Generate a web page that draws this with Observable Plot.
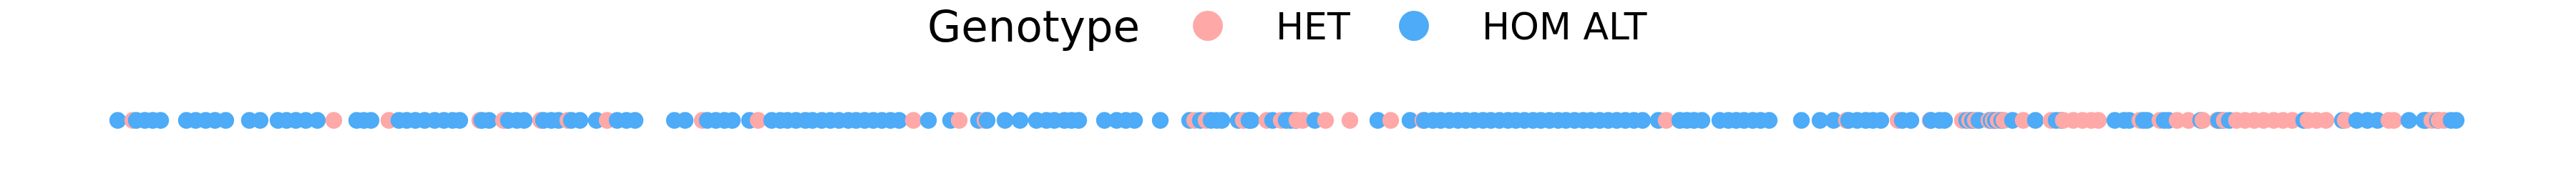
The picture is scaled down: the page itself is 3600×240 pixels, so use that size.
<!DOCTYPE html>
<html>
<head>
<meta charset="utf-8">
<script src="https://cdn.jsdelivr.net/npm/d3@7"></script>
<script src="https://cdn.jsdelivr.net/npm/@observablehq/plot@0.6"></script>
<style>
  html, body { margin: 0; padding: 0; background: #fff; }
  #legend { display: block; }
  svg { display: block; }
</style>
</head>
<body>
<div id="legend"></div>
<div id="chart"></div>
<script>
const legendTitle = "Genotype";
const categories = ["HET", "HOM ALT"];
const colors = ["#ffa8a8", "#4dabf7"];

// variant positions (arbitrary units along the sequence)
const hetPositions = [
  185, 466, 543, 670, 703, 707, 755, 793, 848, 981, 1059, 1276, 1340, 1376,
  1669, 1685, 1737, 1770, 1790, 1812, 1820, 1852, 1886, 1943, 1988, 2328,
  2580, 2652, 2697, 2742, 2752, 2760, 2779, 2785, 2792, 2800, 2827,
  2866, 2883, 2897, 2910, 2922, 2932, 2990, 3018, 3042, 3058, 3078, 3098, 3108, 3125,
  3137, 3150, 3163, 3177, 3190, 3203, 3225, 3237, 3250, 3277, 3338, 3345, 3398, 3408, 3415
];
const homAltPositions = [
  164, 190, 202, 213, 224, 260, 273, 287, 300, 315, 348, 363, 388, 400, 413, 427,
  443, 498, 508, 518, 557, 568, 580, 593, 607, 620, 632, 642, 673, 683, 710, 722, 732,
  759, 770, 780, 798, 810, 833, 862, 875, 887, 942, 957, 988, 1000, 1012, 1023,
  1047, 1078, 1090, 1100, 1112, 1125, 1135, 1148, 1160, 1172, 1185, 1196, 1208, 1220, 1232, 1244, 1256,
  1297, 1328, 1367, 1379, 1404, 1425, 1448, 1462, 1473, 1487, 1497, 1507, 1543, 1560, 1573, 1585, 1621,
  1662, 1677, 1692, 1700, 1707, 1730, 1745, 1748, 1778, 1797, 1803, 1810, 1837, 1925,
  1970, 1990, 2002, 2013, 2025, 2037, 2048, 2060, 2072, 2083, 2095, 2107, 2118, 2130, 2142, 2153,
  2165, 2177, 2188, 2200, 2212, 2223, 2235, 2247, 2259, 2271, 2283, 2295, 2317, 2347, 2357, 2367, 2378,
  2403, 2415, 2426, 2437, 2449, 2460, 2472, 2517, 2543, 2562, 2583, 2595, 2607, 2617, 2628, 2658, 2670,
  2698, 2710, 2717, 2748, 2756, 2765, 2782, 2788, 2797, 2812, 2844, 2873, 2880, 2955, 2968, 2975,
  2995, 3000, 3024, 3030, 3075, 3100, 3105, 3115, 3219, 3273, 3293, 3308, 3322, 3366, 3387, 3390,
  3406, 3425, 3432
];
const xDomain = [164, 3432];

const data = [
  ...hetPositions.map(p => ({pos: p, genotype: categories[0]})),
  ...homAltPositions.map(p => ({pos: p, genotype: categories[1]}))
].sort((a, b) => a.pos - b.pos);

// Legend (above the plot)
const lg = d3.select("#legend").append("svg")
  .attr("width", 3600).attr("height", 80)
  .attr("font-family", "DejaVu Sans, sans-serif");
lg.append("text").attr("x", 1296).attr("y", 58).attr("font-size", 61).attr("fill", "#000").text(legendTitle);
const itemX = [1688, 1976];
categories.forEach((c, i) => {
  lg.append("circle").attr("cx", itemX[i]).attr("cy", 36).attr("r", 21).attr("fill", colors[i]);
  lg.append("text").attr("x", itemX[i] + 95).attr("y", 55).attr("font-size", 52).attr("fill", "#000").text(c);
});

const chart = Plot.plot({
  width: 3600,
  height: 160,
  marginTop: 15,
  marginBottom: 0,
  marginLeft: 164,
  marginRight: 168,
  x: {domain: xDomain, axis: null},
  color: {domain: categories, range: colors},
  style: {background: "#fff"},
  marks: [
    Plot.dot(data, {x: "pos", fill: "genotype", r: 11.7, stroke: null})
  ]
});
document.getElementById("chart").appendChild(chart);
</script>
</body>
</html>
